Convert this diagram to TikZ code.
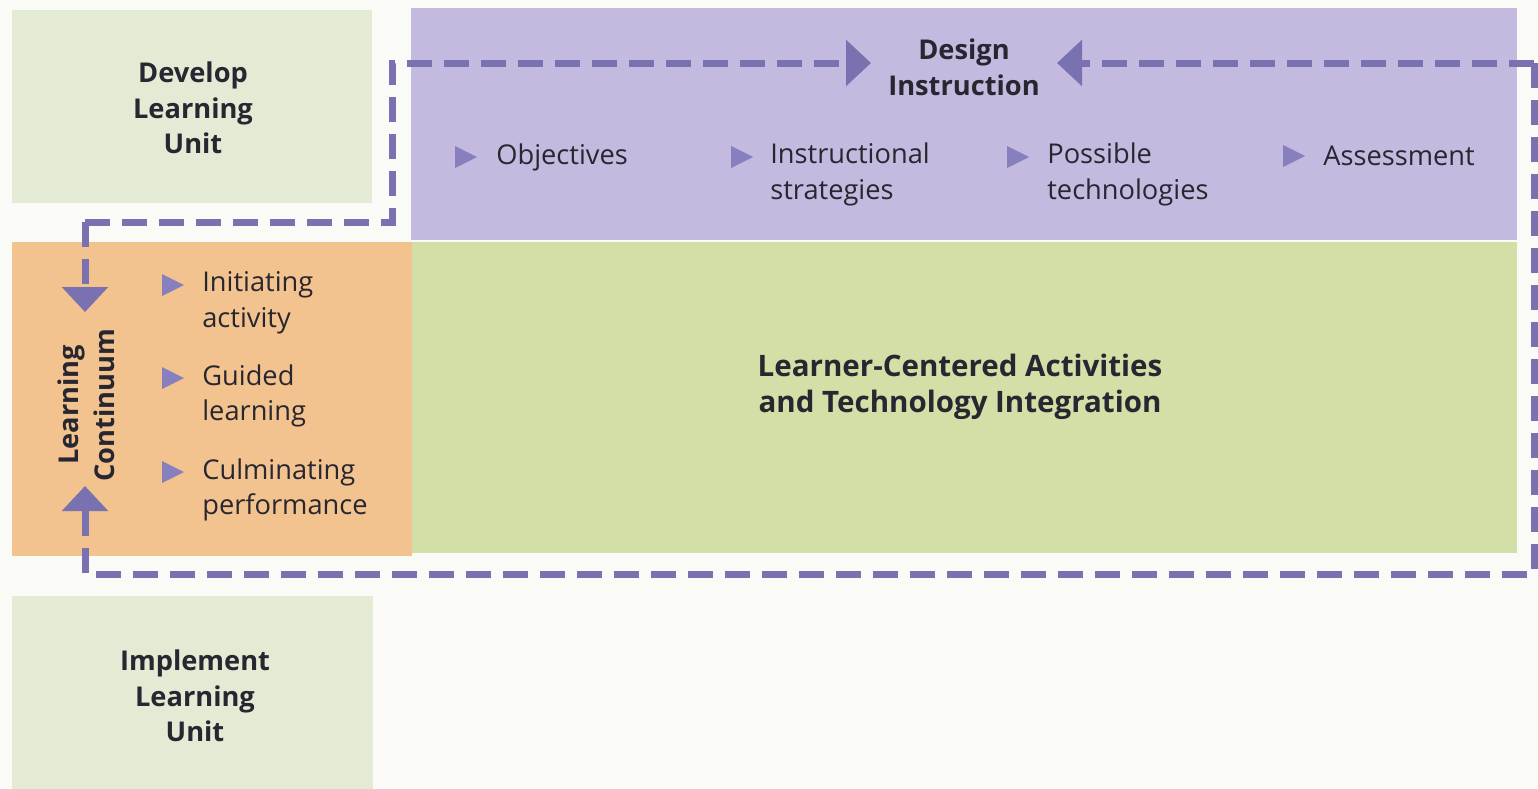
\documentclass[tikz,border=0pt]{standalone}
\usepackage{fontspec}
\setmainfont{Open Sans}
\usetikzlibrary{arrows.meta}
\definecolor{bg}{RGB}{250,250,247}
\definecolor{lgreen}{RGB}{228,235,213}
\definecolor{purp}{RGB}{196,185,222}
\definecolor{orng}{RGB}{242,195,142}
\definecolor{grn}{RGB}{210,223,166}
\definecolor{dashc}{RGB}{122,114,176}
\definecolor{bulc}{RGB}{136,127,190}
\definecolor{txt}{RGB}{40,38,48}
\begin{document}
\begin{tikzpicture}[x=0.02cm,y=-0.02cm,
  box/.style={draw=none,inner sep=0,outer sep=0},
  lbl/.style={text=txt,inner sep=0,align=center,font=\fontsize{15.5}{20.3}\selectfont},
  blbl/.style={lbl,font=\fontsize{15.5}{20.3}\selectfont\bfseries},
  item/.style={text=txt,inner sep=0,align=left,anchor=west,font=\fontsize{15.5}{20.3}\selectfont},
  loopline/.style={draw=dashc,line width=0.14cm,dash pattern=on 0.5cm off 0.24cm,
     -{Triangle[width=0.9cm,length=0.5cm]}},
  bul/.pic={\fill[bulc] (-11,-11) -- (11,0) -- (-11,11) -- cycle;}
]
\useasboundingbox (0,0) rectangle (1538,788);
\fill[bg] (0,0) rectangle (1538,788);
% boxes
\node[box,fill=lgreen,minimum width=7.2cm,minimum height=3.86cm] (dev) at (192,106.5) {};
\node[box,fill=purp,minimum width=22.12cm,minimum height=4.64cm] (design) at (964,124) {};
\node[box,fill=orng,minimum width=8cm,minimum height=6.28cm] (cont) at (212,399) {};
\node[box,fill=grn,minimum width=22.1cm,minimum height=6.22cm] (act) at (964.5,397.5) {};
\node[box,fill=lgreen,minimum width=7.22cm,minimum height=3.9cm] (impl) at (192.5,693) {};
% titles
\node[blbl] (devt) at (193,108) {Develop\\Learning\\Unit};
\node[blbl] (implt) at (195,696) {Implement\\Learning\\Unit};
\node[blbl] (dest) at (964,67) {Design\\Instruction};
\node[blbl,font=\fontsize{16.8}{20.3}\selectfont\bfseries] (actt) at (960,387) {Learner-Centered Activities\\and Technology Integration};
\node[blbl,rotate=90] (contt) at (86,405) {Learning\\Continuum};
% design items
\pic at (466,157) {bul};
\node[item] (obj) at (496,157) {Objectives};
\pic at (742,157) {bul};
\node[item] (ins) at (770,174.5) {Instructional\\strategies};
\pic at (1018,157) {bul};
\node[item] (pos) at (1047,174.5) {Possible\\technologies};
\pic at (1294,156) {bul};
\node[item] (ass) at (1323,156) {Assessment};
% continuum items
\pic at (173,285) {bul};
\node[item] (ini) at (202,302.5) {Initiating\\activity};
\pic at (173,378) {bul};
\node[item] (gui) at (202,396) {Guided\\learning};
\pic at (173,472) {bul};
\node[item] (cul) at (202,490) {Culminating\\performance};
% loop coordinates
\coordinate (a1) at (392,63);
\coordinate (a2) at (392,222);
\coordinate (a3) at (85,222);
\coordinate (tipR) at (871,63);
\coordinate (tipD) at (85,312);
\coordinate (b1) at (1534,63);
\coordinate (b2) at (1534,574);
\coordinate (b3) at (85,574);
\coordinate (tipL) at (1057,63);
\coordinate (tipU) at (85,486);
\draw[loopline] (a3) -- (tipD);
\draw[loopline] (a3) -- (a2) -- (a1) -- (tipR);
\draw[loopline] (b1) -- (tipL);
\draw[loopline] (b1) -- (b2) -- (b3) -- (tipU);
\end{tikzpicture}
\end{document}
